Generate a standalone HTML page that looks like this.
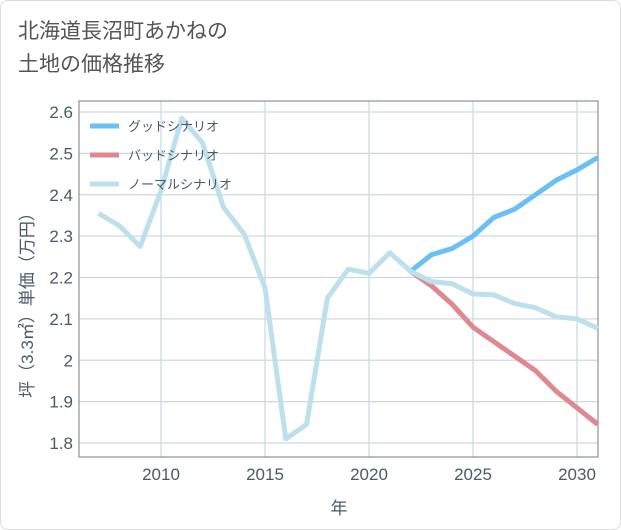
<!DOCTYPE html>
<html><head><meta charset="utf-8"><style>
body{margin:0;background:#fff;}
#card{position:relative;width:619px;height:528px;border:1px solid #ddd;border-radius:8px;background:#fff;font-family:"Liberation Sans","Noto Sans CJK JP",sans-serif;overflow:hidden}
#title{position:absolute;left:17px;top:14px;font-size:21px;line-height:33px;color:#555;}
svg{position:absolute;left:0;top:0}
svg text{font-family:"Liberation Sans","Noto Sans CJK JP",sans-serif;}
</style></head><body>
<div id="card">
<div id="title">北海道長沼町あかねの<br>土地の価格推移</div>
<svg id="chart" width="621" height="530"></svg>
</div>
<script>
const years=[2007,2008,2009,2010,2011,2012,2013,2014,2015,2016,2017,2018,2019,2020,2021,2022,2023,2024,2025,2026,2027,2028,2029,2030,2031];
const normal=[2.355,2.325,2.275,2.41,2.585,2.525,2.37,2.305,2.175,1.81,1.845,2.15,2.22,2.21,2.26,2.215,2.19,2.185,2.16,2.158,2.137,2.127,2.105,2.1,2.077];
const goodYears=[2022,2023,2024,2025,2026,2027,2028,2029,2030,2031];
const good=[2.215,2.255,2.27,2.3,2.345,2.365,2.4,2.435,2.46,2.49];
const bad=[2.215,2.18,2.135,2.08,2.045,2.01,1.975,1.925,1.885,1.845];
const yTicks=[1.8,1.9,2,2.1,2.2,2.3,2.4,2.5,2.6];
const yTickLabels=["1.8","1.9","2","2.1","2.2","2.3","2.4","2.5","2.6"];
const xTicks=[2010,2015,2020,2025,2030];
const L=78,R=597,T=100,B=456;
const x=v=>160+(v-2010)*20.8;
const y=v=>442-(v-1.8)*413.75;
const svg=document.getElementById('chart');
const NS='http://www.w3.org/2000/svg';
const TXT='#4a5a6a';
function mk(t,a){const e=document.createElementNS(NS,t);for(const k in a)e.setAttribute(k,a[k]);svg.appendChild(e);return e;}
yTicks.forEach((v,i)=>{
 const g=mk('line',{x1:L,x2:R,y1:y(v),y2:y(v),stroke:'#cfd8e0','stroke-width':1.3});
 
 
 const t=mk('text',{x:L-6,y:y(v)+6,'text-anchor':'end','font-size':17,fill:TXT});
 t.textContent=yTickLabels[i];
 
 
});
xTicks.forEach(v=>{
 const g=mk('line',{x1:x(v),x2:x(v),y1:T,y2:B,stroke:'#c6dbe8','stroke-width':1.3});
 
 
 const t=mk('text',{x:x(v),y:B+23,'text-anchor':'middle','font-size':17,fill:TXT});
 t.textContent=v;
 
 
});
const f=mk('rect',{x:L,y:T,width:R-L,height:B-T,fill:'none',stroke:'#999','stroke-width':1.3});


function line(xs,vs,c,name){
 const p=mk('polyline',{points:xs.map((yr,i)=>x(yr)+','+y(vs[i])).join(' '),fill:'none',stroke:c,'stroke-width':5,'stroke-linejoin':'round'});
 
 
}
line(goodYears,bad,'#de8990','bad-scenario-line');
line(goodYears,good,'#6bbff5','good-scenario-line');
line(years,normal,'#bde0ec','normal-scenario-line');
const leg=[['グッドシナリオ','#6bbff5'],['バッドシナリオ','#de8990'],['ノーマルシナリオ','#bde0ec']];
leg.forEach((l,i)=>{
 const yy=125+i*29;
 const s=mk('line',{x1:89,x2:118,y1:yy,y2:yy,stroke:l[1],'stroke-width':5});
 
 
 const t=mk('text',{x:127,y:yy+5,'font-size':13,fill:TXT});
 t.textContent=l[0];
 
 
});
const xt=mk('text',{x:338,y:513,'text-anchor':'middle','font-size':17,fill:TXT});
xt.textContent='年';


const yt=mk('text',{x:0,y:0,'text-anchor':'middle','font-size':17,fill:TXT,transform:'translate(32,300) rotate(-90)'});
yt.textContent='坪（3.3㎡）単価（万円）';


</script>
</body></html>
